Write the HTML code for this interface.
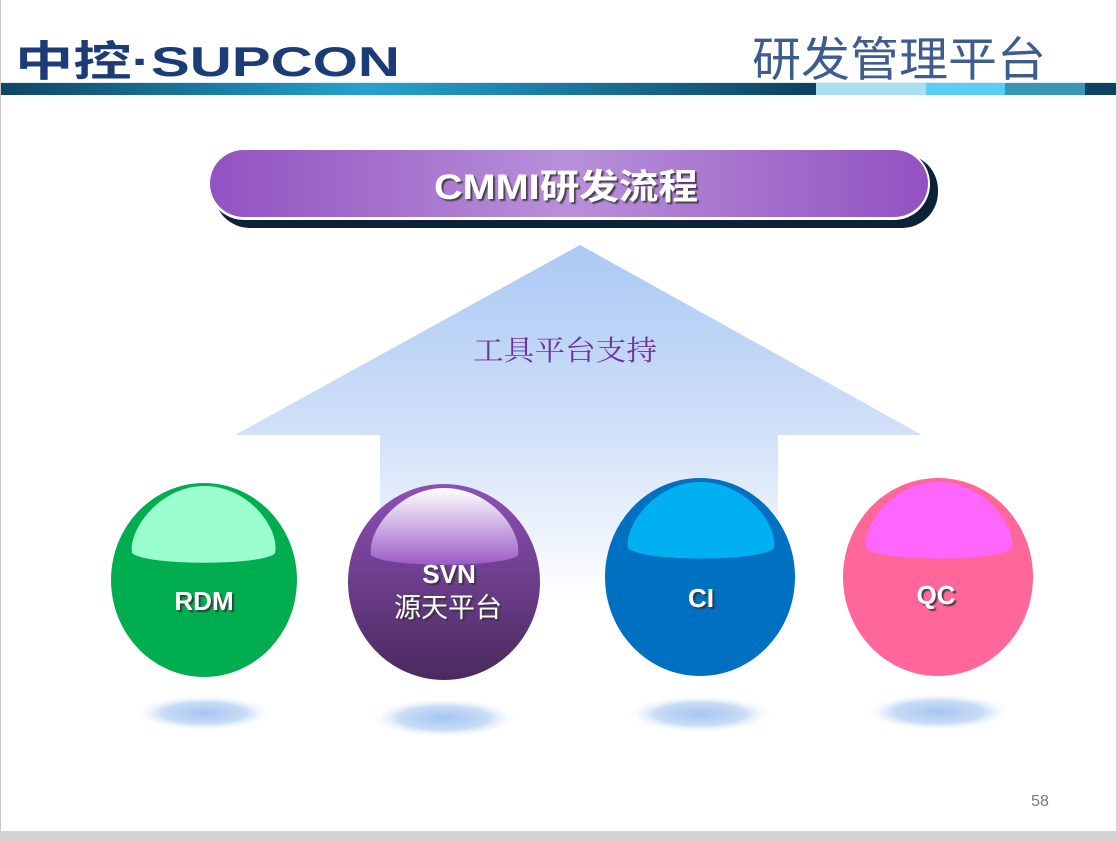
<!DOCTYPE html>
<html><head><meta charset="utf-8"><style>
html,body{margin:0;padding:0;background:#d4d4d4;}
#s{position:relative;width:1118px;height:841px;overflow:hidden;background:#d4d4d4;font-family:"Liberation Sans","Noto Sans CJK SC",sans-serif;}
</style></head><body><div id="s">
<svg width="1118" height="841" xmlns="http://www.w3.org/2000/svg" style="position:absolute;left:0;top:0">
<defs>
<linearGradient id="bar" x1="0" x2="1">
<stop offset="0" stop-color="#0e4565"/><stop offset="0.45" stop-color="#25a3cf"/><stop offset="1" stop-color="#0e4060"/>
</linearGradient>
<linearGradient id="ban" x1="0" x2="1">
<stop offset="0" stop-color="#9252c2"/><stop offset="0.5" stop-color="#b890d8"/><stop offset="1" stop-color="#9252c2"/>
</linearGradient>
<linearGradient id="arr" x1="0" y1="0" x2="0" y2="1">
<stop offset="0" stop-color="#abc9f5"/><stop offset="0.5" stop-color="#cfdff8"/><stop offset="1" stop-color="#ffffff"/>
</linearGradient>
<linearGradient id="svn" x1="0" y1="0" x2="0" y2="1">
<stop offset="0" stop-color="#8e50b8"/><stop offset="1" stop-color="#4a2a5e"/>
</linearGradient>
<linearGradient id="svnh" x1="0" y1="0" x2="0" y2="1">
<stop offset="0" stop-color="#ffffff"/><stop offset="1" stop-color="#9b5cc6"/>
</linearGradient>
<radialGradient id="sh"><stop offset="0" stop-color="#a5c6f2"/><stop offset="0.6" stop-color="#c9dcf6"/><stop offset="1" stop-color="#ffffff" stop-opacity="0"/></radialGradient>
<filter id="ts"><feDropShadow dx="2" dy="2" stdDeviation="0.6" flood-color="#333" flood-opacity="0.8"/></filter>
</defs>
<rect x="1" y="0" width="1115" height="831" fill="#fff"/>
<rect x="0" y="0" width="1" height="831" fill="#c8c8c8"/>
<text x="15" y="76" font-size="42" font-weight="bold" fill="#1c3c78" textLength="385" lengthAdjust="spacingAndGlyphs">中控·SUPCON</text>
<text x="752" y="76" font-size="47" fill="#3f5d8c" font-family="'Noto Sans CJK SC',sans-serif" textLength="294" lengthAdjust="spacingAndGlyphs">研发管理平台</text>
<rect x="1" y="83" width="815" height="12" fill="url(#bar)"/>
<rect x="816" y="83" width="110" height="12" fill="#a8dff1"/>
<rect x="926" y="83" width="79" height="12" fill="#5ccdf4"/>
<rect x="1005" y="83" width="80" height="12" fill="#3a96b6"/>
<rect x="1085" y="83" width="31" height="12" fill="#0e4262"/>
<rect x="1" y="82" width="1115" height="1" fill="#e0eef4"/>
<rect x="214" y="154" width="724" height="74" rx="36" fill="#0c2238"/>
<rect x="208" y="148" width="722" height="72" rx="36" fill="#fff"/>
<rect x="210" y="150" width="718" height="67" rx="34" fill="url(#ban)"/>
<text x="434" y="199" font-size="35" font-weight="bold" fill="#fff" filter="url(#ts)" textLength="264" lengthAdjust="spacingAndGlyphs">CMMI研发流程</text>
<polygon points="580,245 922,435 778,435 778,600 380,600 380,435 235,435" fill="url(#arr)"/>
<text x="473" y="360" font-size="28" fill="#7030a0" font-family="'Noto Serif CJK SC','Noto Sans CJK SC',serif" textLength="184" lengthAdjust="spacingAndGlyphs">工具平台支持</text>
<ellipse cx="204" cy="713" rx="70" ry="18" fill="url(#sh)"/>
<ellipse cx="444" cy="718" rx="75" ry="20" fill="url(#sh)"/>
<ellipse cx="700" cy="714" rx="75" ry="19" fill="url(#sh)"/>
<ellipse cx="938" cy="712" rx="75" ry="19" fill="url(#sh)"/>
<ellipse cx="204" cy="580" rx="93" ry="97" fill="#00ae4f"/>
<path d="M132,553 C128,530 160,486 204,486 C250,486 280,530 275,553 C265,566 145,566 132,553 Z" fill="#9affcc"/>
<text x="204" y="610" text-anchor="middle" font-size="26" font-weight="bold" fill="#fff" filter="url(#ts)">RDM</text>
<ellipse cx="444" cy="582" rx="96" ry="98" fill="url(#svn)"/>
<path d="M371,555 C367,530 400,488 444,488 C490,488 522,530 518,555 C505,568 383,568 371,555 Z" fill="url(#svnh)"/>
<text x="449" y="583" text-anchor="middle" font-size="26" font-weight="bold" fill="#fff" filter="url(#ts)">SVN</text>
<text x="448" y="617" text-anchor="middle" font-size="27" fill="#fff" filter="url(#ts)">源天平台</text>
<ellipse cx="700" cy="577" rx="95" ry="99" fill="#0070c0"/>
<path d="M628,548 C624,525 656,482 700,482 C746,482 778,525 774,548 C762,562 640,562 628,548 Z" fill="#00b0f0"/>
<text x="701" y="607" text-anchor="middle" font-size="26" font-weight="bold" fill="#fff" filter="url(#ts)">CI</text>
<text x="936" y="604" text-anchor="middle" font-size="26" font-weight="bold" fill="#fff" filter="url(#ts)">QC</text>
<ellipse cx="938" cy="577" rx="95" ry="99" fill="#ff6699"/>
<path d="M866,548 C862,525 894,482 938,482 C984,482 1016,525 1012,548 C1000,562 878,562 866,548 Z" fill="#ff66ff"/>
<text x="936" y="604" text-anchor="middle" font-size="26" font-weight="bold" fill="#fff" filter="url(#ts)">QC</text>
<text x="1040" y="806" text-anchor="middle" font-size="16" fill="#777">58</text>
</svg>
</div></body></html>
